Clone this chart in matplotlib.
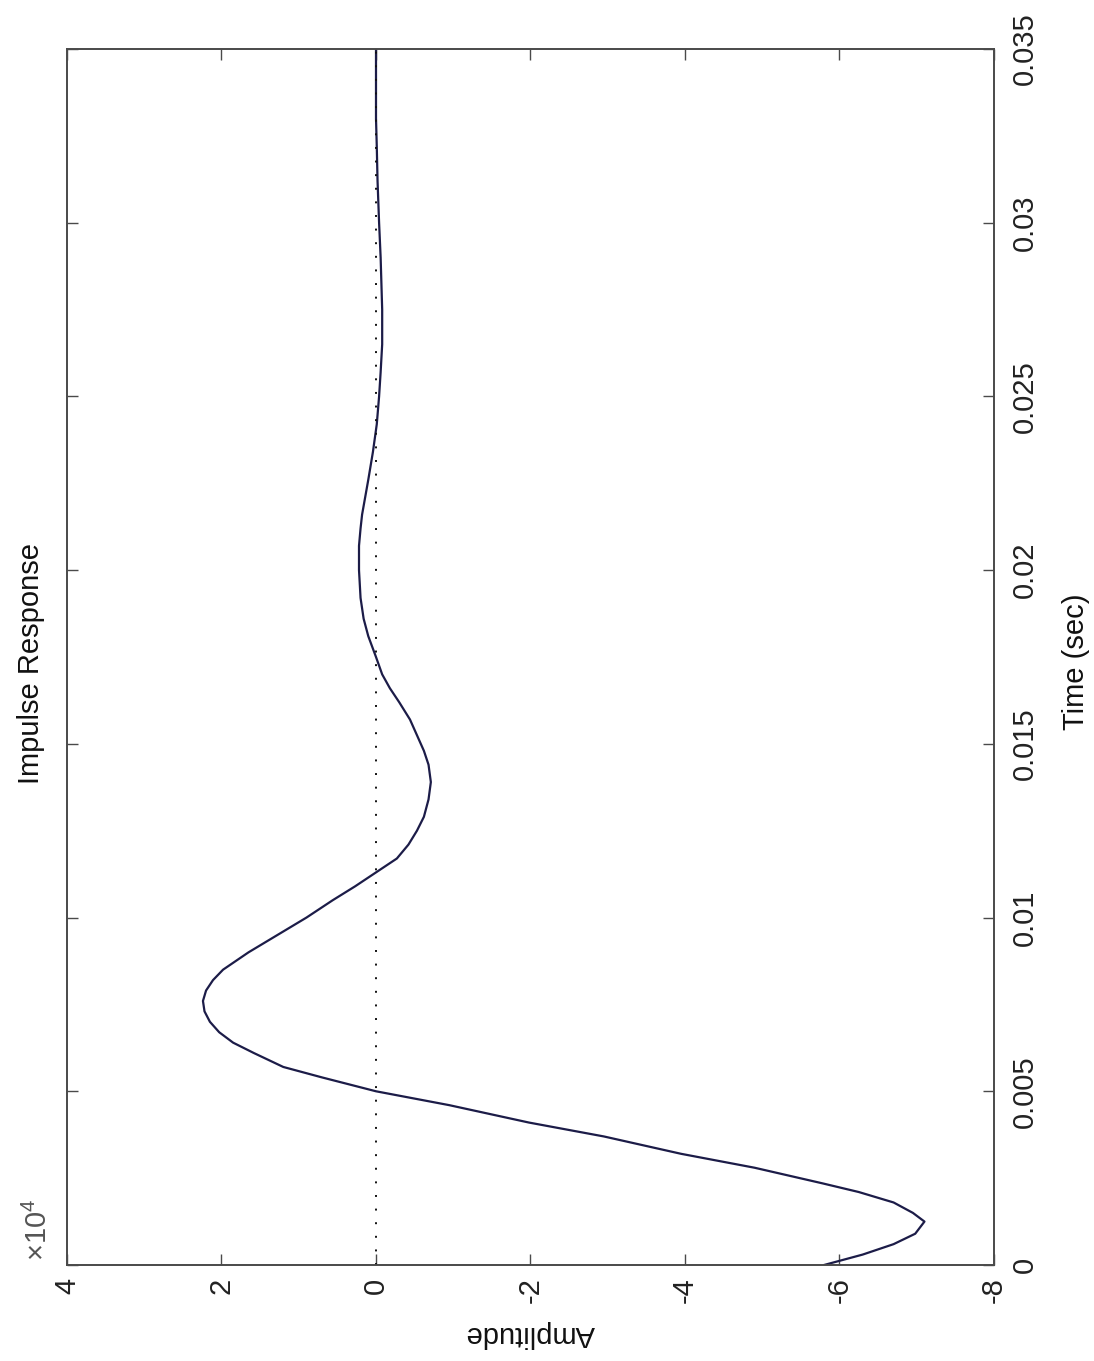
import matplotlib
matplotlib.use("Agg")
import matplotlib.pyplot as plt

plt.rcParams['font.family'] = ['Liberation Sans', 'DejaVu Sans']
plt.rcParams['mathtext.fontset'] = 'custom'
plt.rcParams['mathtext.rm'] = 'Liberation Sans'
plt.rcParams['mathtext.it'] = 'Liberation Sans:italic'

# Impulse response (amplitude in units of 1e4)
time_s = [0.0000, 0.0003, 0.0006, 0.0009, 0.00125, 0.0015, 0.0018, 0.0021,
          0.00235, 0.0028, 0.0032, 0.0037, 0.0041, 0.0046, 0.0050, 0.0054,
          0.0057, 0.0061, 0.0064, 0.0067, 0.0070, 0.0073, 0.0076, 0.0079,
          0.0082, 0.0085, 0.0090, 0.0096, 0.0100, 0.0105, 0.0109, 0.0113,
          0.0117, 0.0121, 0.0125, 0.0129, 0.0134, 0.0139, 0.0144, 0.0148,
          0.0152, 0.0157, 0.0162, 0.0166, 0.0170, 0.0175, 0.0181, 0.0186,
          0.0192, 0.0200, 0.0207, 0.0212, 0.0216, 0.0221, 0.0226, 0.0234,
          0.0242, 0.0250, 0.0257, 0.0265, 0.0275, 0.0290, 0.0300, 0.0312,
          0.0322, 0.0330, 0.0350]
amplitude = [-5.80, -6.30, -6.70, -6.98, -7.10, -6.95, -6.70, -6.25,
             -5.78, -4.90, -3.95, -2.95, -1.98, -0.95, 0.00, 0.70,
             1.20, 1.58, 1.85, 2.03, 2.15, 2.22, 2.24, 2.20,
             2.11, 1.98, 1.65, 1.20, 0.90, 0.56, 0.27, 0.00,
             -0.27, -0.42, -0.53, -0.62, -0.68, -0.71, -0.68, -0.62,
             -0.54, -0.44, -0.30, -0.18, -0.08, 0.00, 0.10, 0.16,
             0.20, 0.22, 0.22, 0.20, 0.18, 0.14, 0.10, 0.04,
             -0.01, -0.04, -0.06, -0.08, -0.08, -0.06, -0.04, -0.02,
             -0.01, 0.00, 0.00]

amp_ticks = [4, 2, 0, -2, -4, -6, -8]
amp_labels = ['4', '2', '0', '-2', '-4', '-6', '-8']
time_ticks = [0, 0.005, 0.01, 0.015, 0.02, 0.025, 0.03, 0.035]
time_labels = ['0', '0.005', '0.01', '0.015', '0.02', '0.025', '0.03', '0.035']

W, H = 1094, 1361
fig = plt.figure(figsize=(W / 100, H / 100), dpi=100)
L, R, T, B = 67, 994, 49, 1265
ax = fig.add_axes([L / W, 1 - B / H, (R - L) / W, (B - T) / H])

spine_c = '#4a4a4a'
ax.plot(amplitude, time_s, color='#1c1c48', lw=1.6, solid_joinstyle='round')
ax.axvline(0, color='#111111', ls=(0, (1, 6)), lw=1.4)

ax.set_xlim(4, -8)
ax.set_ylim(0, 0.035)
ax.set_xticks(amp_ticks)
ax.set_xticklabels(amp_labels)
ax.set_yticks(time_ticks)
ax.set_yticklabels(time_labels)

for s in ax.spines.values():
    s.set_color(spine_c)
    s.set_linewidth(1.4)

fs = 21
ax.tick_params(axis='both', direction='in', length=8, width=1.0, color=spine_c,
               labelsize=fs, labelcolor='#222222')
ax.tick_params(axis='x', top=True, bottom=True, labelrotation=90, pad=9)
ax.tick_params(axis='y', left=True, right=True, labelleft=False, labelright=True,
               labelrotation=90, pad=12)
for lab in ax.get_yticklabels():
    lab.set_va('center')
    lab.set_ha('left')

ax.set_xlabel('Amplitude', rotation=180, fontsize=fs, labelpad=12, color='#111111')

fig.text(1076 / W, 1 - 662 / H, 'Time (sec)', rotation=90, ha='center',
         va='center', fontsize=fs, color='#111111')
fig.text(31 / W, 1 - 664 / H, 'Impulse Response', rotation=90, ha='center',
         va='center', fontsize=fs, color='#111111')
fig.text(38 / W, 1 - 1230 / H, r'$\times10^{4}$', rotation=90, ha='center',
         va='center', fontsize=fs, color='#555555')

fig.savefig('out.png', dpi=100, facecolor='white')
